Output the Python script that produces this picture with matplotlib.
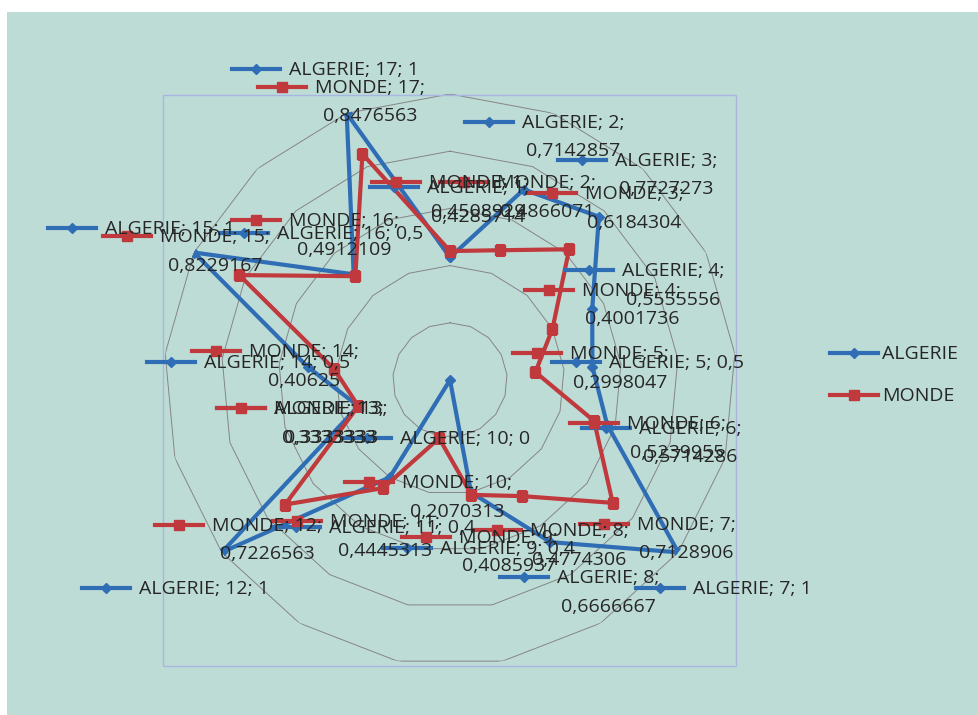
import matplotlib
matplotlib.use('Agg')
import matplotlib.pyplot as plt
from matplotlib.lines import Line2D
from matplotlib.patches import Rectangle
import numpy as np

W, H = 979, 715

# données
categories = list(range(1, 18))
algerie = [0.4285714, 0.7142857, 0.7727273, 0.5555556, 0.5, 0.5714286, 1, 0.6666667, 0.4,
           0, 0.4, 1, 0.3333333, 0.5, 1, 0.5, 1]
monde = [0.4508929, 0.4866071, 0.6184304, 0.4001736, 0.2998047, 0.5239955, 0.7128906, 0.4774306,
         0.4085937, 0.2070313, 0.4445313, 0.7226563, 0.3333333, 0.40625, 0.8229167, 0.4912109, 0.8476563]
rings = [0.2, 0.4, 0.6, 0.8, 1.0]

# décalage des étiquettes (pixels, par rapport au point)
alg_off = [(-80, -70), (-59, -68), (-41, -57), (-27, -39), (-40, -5), (-25, 3), (-42, 36), (-50, 35),
           (-88, 56), (-107, 58), (-118, 50), (-140, 36), (-141, 2), (-161, -5), (-146, -25),
           (-134, -41), (-115, -44)]
mon_off = [(-78, -69), (-60, -68), (-41, -56), (-27, -39), (-22, -19), (-24, 2), (-33, 21), (-49, 34),
           (-69, 42), (-94, 44), (-110, 33), (-130, 20), (-141, 2), (-142, -18), (-136, -39),
           (-123, -56), (-104, -67)]

BLUE = '#2f6db5'
RED = '#c0393d'
TXT = '#262626'
FONT = 'Open Sans'


def fmt(v):
    s = ('%.7f' % v).rstrip('0').rstrip('.')
    return (s or '0').replace('.', ',')


def fx(x):
    return x / W


def fy(y):
    return (H - y) / H


fig = plt.figure(figsize=(W / 100, H / 100), dpi=100)
fig.patch.set_facecolor('white')

# fond de la zone du graphique
fig.add_artist(Rectangle((fx(7), 0), 1 - fx(7), fy(12), transform=fig.transFigure,
                         facecolor='#bedcd6', edgecolor='none', zorder=0))
# zone de traçage
fig.add_artist(Rectangle((fx(163), fy(666)), fx(736) - fx(163), fy(95) - fy(666),
                         transform=fig.transFigure, facecolor='none', edgecolor='#a9b6e2',
                         lw=1.0, zorder=1))

R = 286
ax = fig.add_axes([fx(450 - R), fy(380 + R), 2 * R / W, 2 * R / H], projection='polar')
ax.set_theta_zero_location('N')
ax.set_theta_direction(-1)
ax.set_ylim(0, 1)
ax.axis('off')

theta = np.arange(len(categories)) * 2 * np.pi / len(categories)
tc = np.append(theta, theta[0])

for r in rings:
    ax.plot(tc, [r] * len(tc), color='#858585', lw=0.7, zorder=1)

ax.plot(tc, algerie + algerie[:1], color=BLUE, lw=3.0, marker='D', ms=5, zorder=3)
ax.plot(tc, monde + monde[:1], color=RED, lw=3.0, marker='s', ms=7, zorder=4)


def key(x0, y0, color, marker, ms):
    xs = [fx(x0), fx(x0 + 24), fx(x0 + 48)]
    ys = [fy(y0)] * 3
    fig.add_artist(Line2D(xs, ys, transform=fig.transFigure, color=color, lw=3.0,
                          marker=marker, ms=ms, markevery=[1], zorder=6))


series = [('ALGERIE', algerie, alg_off, BLUE, 'D', 5),
          ('MONDE', monde, mon_off, RED, 's', 7)]

for name, vals, offs, color, marker, ms in series:
    for k in range(len(categories)):
        px, py = ax.transData.transform((theta[k], vals[k]))
        ix, iy = px, H - py
        kx, ky = ix + offs[k][0], iy + offs[k][1]
        key(kx, ky, color, marker, ms)
        v = fmt(vals[k])
        if len(v) <= 3:
            s = '%s; %d; %s' % (name, categories[k], v)
        else:
            s = '%s; %d;\n%s' % (name, categories[k], v)
        fig.text(fx(kx + 57), fy(ky - 8), s, ha='left', va='top', multialignment='center',
                 fontsize=14, family=FONT, color=TXT, linespacing=1.75, zorder=7)

# légende
for i, (name, vals, offs, color, marker, ms) in enumerate(series):
    y = 353 + 42 * i
    key(830, y, color, marker, ms)
    fig.text(fx(882), fy(y + 1), name, ha='left', va='center', fontsize=14, family=FONT, color=TXT)

fig.savefig('out.png', dpi=100)
